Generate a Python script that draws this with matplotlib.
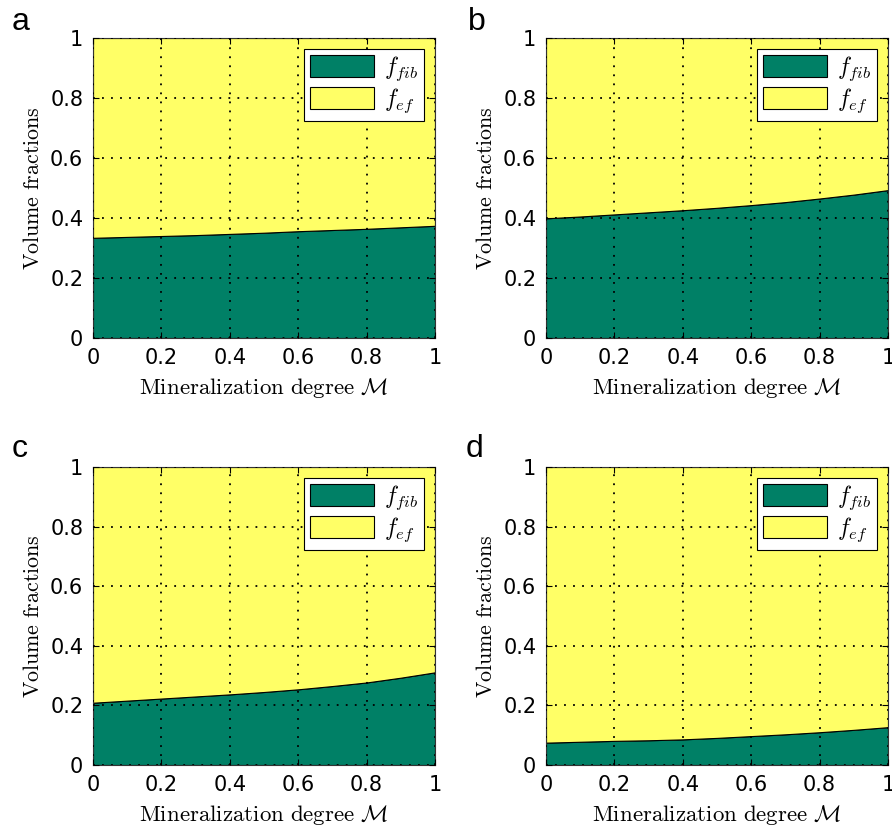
import matplotlib.pyplot as plt
import numpy as np
from matplotlib.patches import Patch

plt.rcParams['mathtext.fontset'] = 'cm'

# mineralization degree M
M = [0.0, 0.1, 0.2, 0.3, 0.4, 0.5, 0.6, 0.7, 0.8, 0.9, 1.0]

# fibril volume fraction f_fib for each panel (f_ef = 1 - f_fib)
f_fib_a = [0.334, 0.337, 0.340, 0.343, 0.347, 0.351, 0.356, 0.360, 0.364, 0.369, 0.374]
f_fib_b = [0.399, 0.405, 0.412, 0.419, 0.426, 0.434, 0.443, 0.453, 0.465, 0.478, 0.493]
f_fib_c = [0.209, 0.216, 0.223, 0.230, 0.237, 0.245, 0.254, 0.265, 0.277, 0.293, 0.311]
f_fib_d = [0.075, 0.078, 0.081, 0.083, 0.086, 0.091, 0.097, 0.103, 0.110, 0.118, 0.127]

panels = ['a', 'b', 'c', 'd']
ticks = [0, 0.2, 0.4, 0.6, 0.8, 1]
tick_labels = ['0', '0.2', '0.4', '0.6', '0.8', '1']

green = '#008066'   # matlab summer colormap ends
yellow = '#ffff66'

W, H = 892, 834
fig = plt.figure(figsize=(W / 100, H / 100), dpi=100)

# axes boxes in pixels: left, top, right, bottom
boxes = [(93, 38, 435, 338), (546, 38, 888, 338),
         (93, 467, 435, 765), (546, 467, 888, 765)]
letter_pos = [(12, 30), (468, 30), (12, 457), (466, 457)]

for name, f_fib, box, lp in zip(panels, [f_fib_a, f_fib_b, f_fib_c, f_fib_d], boxes, letter_pos):
    l, t, r, b = box
    ax = fig.add_axes([l / W, 1 - b / H, (r - l) / W, (b - t) / H])
    f_fib = np.array(f_fib)
    f_ef = 1 - f_fib
    ax.stackplot(M, f_fib, f_ef, colors=[green, yellow], edgecolor='black', linewidth=0.8)
    ax.set_xlim(0, 1)
    ax.set_ylim(0, 1)
    ax.set_xticks(ticks)
    ax.set_xticklabels(tick_labels)
    ax.set_yticks(ticks)
    ax.set_yticklabels(tick_labels)
    ax.tick_params(direction='in', length=4, width=0.8, top=True, right=True,
                   labelsize=15, pad=7)
    ax.set_axisbelow(False)
    ax.grid(True, color='black', linestyle=(0, (1, 4)), linewidth=1.3)
    for sp in ax.spines.values():
        sp.set_linewidth(0.8)
        sp.set_color('#333333')
    ax.set_xlabel(r'$\mathrm{Mineralization\ degree}\ \mathcal{M}$', fontsize=16.5, labelpad=6)
    ax.set_ylabel(r'$\mathrm{Volume\ fractions}$', fontsize=15.8, labelpad=5)

    handles = [Patch(facecolor=green, edgecolor='black', linewidth=0.8),
               Patch(facecolor=yellow, edgecolor='black', linewidth=0.8)]
    leg = ax.legend(handles, [r'$f_{fib}$', r'$f_{ef}$'], loc='upper right',
                    fontsize=17, fancybox=False, framealpha=1, edgecolor='black',
                    handlelength=2.7, handleheight=1.0, labelspacing=0.15,
                    handletextpad=0.45, borderpad=0.25, borderaxespad=0.45)
    leg.get_frame().set_linewidth(0.8)

    fig.text(lp[0] / W, 1 - lp[1] / H, name, fontsize=23, family='Liberation Sans',
             ha='left', va='baseline')

fig.savefig('out.png', dpi=100)
